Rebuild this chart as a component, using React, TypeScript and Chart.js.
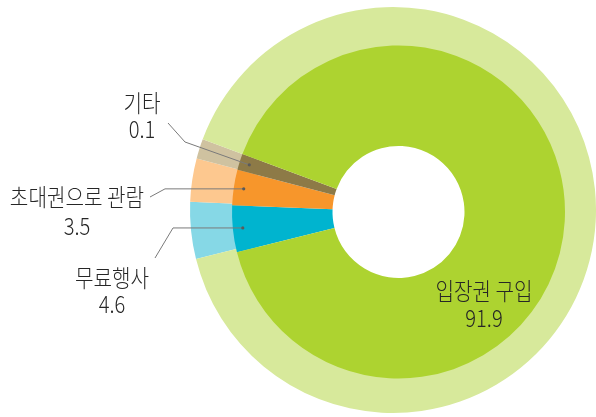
import React, { useEffect, useRef } from 'react';
import { Chart, registerables } from 'chart.js';

Chart.register(...registerables);

// Data (clockwise order starting at the lower-left edge of the 무료행사 slice)
const categories = ['무료행사', '초대권으로 관람', '기타', '입장권 구입'];
const values = [4.6, 3.5, 0.1, 91.9]; // labelled percentages
// slice sizes as drawn in the picture (the tiny 기타 slice is drawn wider to stay visible)
const drawnShares = [4.6, 3.5, 1.6, 91.9];
const innerColors = ['#00b4cf', '#f7962b', '#8d7a47', '#add330'];
const outerColors = ['#86d8e6', '#fdc88f', '#cfc2a0', '#d7e99b'];

// label placement (text centre x, line y's, leader start + elbow)
const labelLayout = [
  { x: 112, y1: 278, y2: 304, start: [155, 258], elbow: [173, null] },
  { x: 77, y1: 197, y2: 226, start: [150, 197], elbow: [165, null] },
  { x: 142, y1: 103, y2: 129, start: [168, 123], elbow: [185, 142] },
  { x: 484, y1: 291, y2: 318, start: null, elbow: null },
];

const W = 596;
const H = 417;
const FONT = '"Noto Sans CJK KR", "Noto Sans", sans-serif';

function drawText(ctx: CanvasRenderingContext2D, text: string, x: number, y: number, size: number) {
  ctx.save();
  ctx.translate(x, y);
  ctx.scale(0.84, 1);
  ctx.font = `300 ${size}px ${FONT}`;
  ctx.fillStyle = '#262626';
  ctx.textAlign = 'center';
  ctx.textBaseline = 'middle';
  ctx.fillText(text, 0, 0);
  ctx.restore();
}

const labelPlugin = {
  id: 'sliceLabels',
  afterDraw(chart: any) {
    const ctx: CanvasRenderingContext2D = chart.ctx;
    const meta = chart.getDatasetMeta(0);
    meta.data.forEach((arc: any, i: number) => {
      const p = arc.getProps(['x', 'y', 'startAngle', 'endAngle', 'outerRadius'], true);
      const mid = (p.startAngle + p.endAngle) / 2;
      const dx = p.x + Math.cos(mid) * (p.outerRadius - 10);
      const dy = p.y + Math.sin(mid) * (p.outerRadius - 10);
      const lay = labelLayout[i];
      if (lay.start) {
        const ex = lay.elbow[0];
        const ey = lay.elbow[1] == null ? dy : lay.elbow[1];
        ctx.save();
        ctx.strokeStyle = '#7a7a7a';
        ctx.lineWidth = 1;
        ctx.beginPath();
        ctx.moveTo(lay.start[0], lay.start[1]);
        ctx.lineTo(ex, ey);
        ctx.lineTo(dx, dy);
        ctx.stroke();
        ctx.fillStyle = '#5a5a5a';
        ctx.beginPath();
        ctx.arc(dx, dy, 1.6, 0, Math.PI * 2);
        ctx.fill();
        ctx.restore();
      }
      drawText(ctx, categories[i], lay.x, lay.y1, 24);
      drawText(ctx, values[i].toFixed(1), lay.x, lay.y2, 24);
    });
  },
};

export default function App() {
  const outerRef = useRef<HTMLCanvasElement | null>(null);
  const innerRef = useRef<HTMLCanvasElement | null>(null);

  useEffect(() => {
    document.body.style.margin = '0';
    document.body.style.overflow = 'hidden';
    const common = {
      responsive: false,
      animation: false as const,
      events: [] as any[],
      rotation: 256,
      plugins: { legend: { display: false }, tooltip: { enabled: false } },
    };
    const outer = new Chart(outerRef.current!, {
      type: 'doughnut',
      data: {
        labels: categories,
        datasets: [{ data: drawnShares, backgroundColor: outerColors, borderWidth: 0, hoverOffset: 0 }],
      },
      options: {
        ...common,
        cutout: 140,
        layout: { padding: { left: 190, right: 0, top: 7, bottom: 4 } },
      } as any,
    });
    const inner = new Chart(innerRef.current!, {
      type: 'doughnut',
      data: {
        labels: categories,
        datasets: [{ data: drawnShares, backgroundColor: innerColors, borderWidth: 0, hoverOffset: 0 }],
      },
      options: {
        ...common,
        cutout: 66,
        layout: { padding: { left: 232, right: 31, top: 45.5, bottom: 38.5 } },
      } as any,
      plugins: [labelPlugin],
    });
    return () => {
      outer.destroy();
      inner.destroy();
    };
  }, []);

  const st: React.CSSProperties = { position: 'absolute', left: 0, top: 0 };
  return (
    <div style={{ position: 'fixed', left: 0, top: 0, width: W, height: H, background: '#fff' }}>
      <canvas ref={outerRef} width={W} height={H} style={st} />
      <canvas ref={innerRef} width={W} height={H} style={st} />
    </div>
  );
}
